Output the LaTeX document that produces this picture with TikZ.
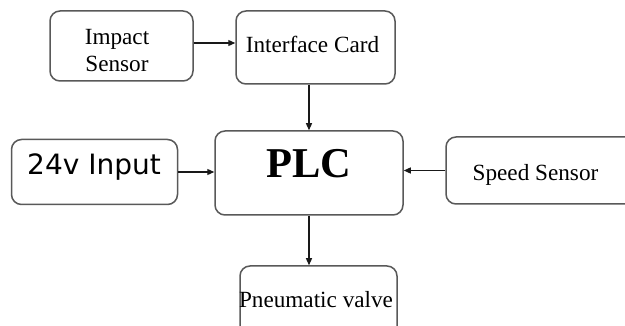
\documentclass[tikz,border=0pt]{standalone}
\usepackage{fontspec}
\setmainfont{Liberation Serif}
\newfontfamily\dvsans{DejaVu Sans}
\usetikzlibrary{arrows.meta}
\begin{document}
\begin{tikzpicture}[x=1pt,y=-1pt,
  blk/.style={draw=black!65,line width=1.5pt,rounded corners=10pt,fill=white,inner sep=0pt},
  txt/.style={font=\fontsize{23.2}{27}\selectfont,align=center,inner sep=0pt},
  arr/.style={draw=black!90,line width=1.2pt,-{Triangle[length=7pt,width=6pt]}}]
\useasboundingbox (0,0) rectangle (625,326);
\clip (0,0) rectangle (625,326);
\fill[white] (0,0) rectangle (625,326);
% boxes
\node[blk,minimum width=143pt,minimum height=70pt] (imp) at (121.5,46) {};
\node[blk,minimum width=159pt,minimum height=73pt] (ic) at (315.5,47.5) {};
\node[blk,minimum width=166pt,minimum height=65pt] (in) at (94.5,172) {};
\node[blk,minimum width=188pt,minimum height=84pt] (plc) at (309,173) {};
\node[blk,minimum width=200pt,minimum height=67pt] (sp) at (546,170.5) {};
\node[blk,minimum width=157pt,minimum height=80pt] (pv) at (318.5,306) {};
% texts
\node[txt] (impt) at (117,51) {Impact\\Sensor};
\node[txt,anchor=base] (ict) at (312.5,53) {Interface Card};
\node[anchor=base,inner sep=0pt,font=\dvsans\fontsize{28}{30}\selectfont] (int) at (94,175) {24v Input};
\node[anchor=base,inner sep=0pt,font=\fontsize{42.5}{45}\bfseries\selectfont] (plct) at (309,178) {PLC};
\node[txt,anchor=base] (spt) at (535.5,181) {Speed Sensor};
\node[txt,anchor=base] (pvt) at (316,308) {Pneumatic valve};
% connectors
\draw[arr] (imp.east |- 0,43) -- (ic.west |- 0,43);
\draw[arr] (ic.south -| plc.north) -- (plc.north);
\draw[arr] (in.east) -- (in.east -| plc.west);
\draw[arr] (sp.west) -- (sp.west -| plc.east);
\draw[arr] (plc.south) -- (plc.south |- pv.north);
\end{tikzpicture}
\end{document}
